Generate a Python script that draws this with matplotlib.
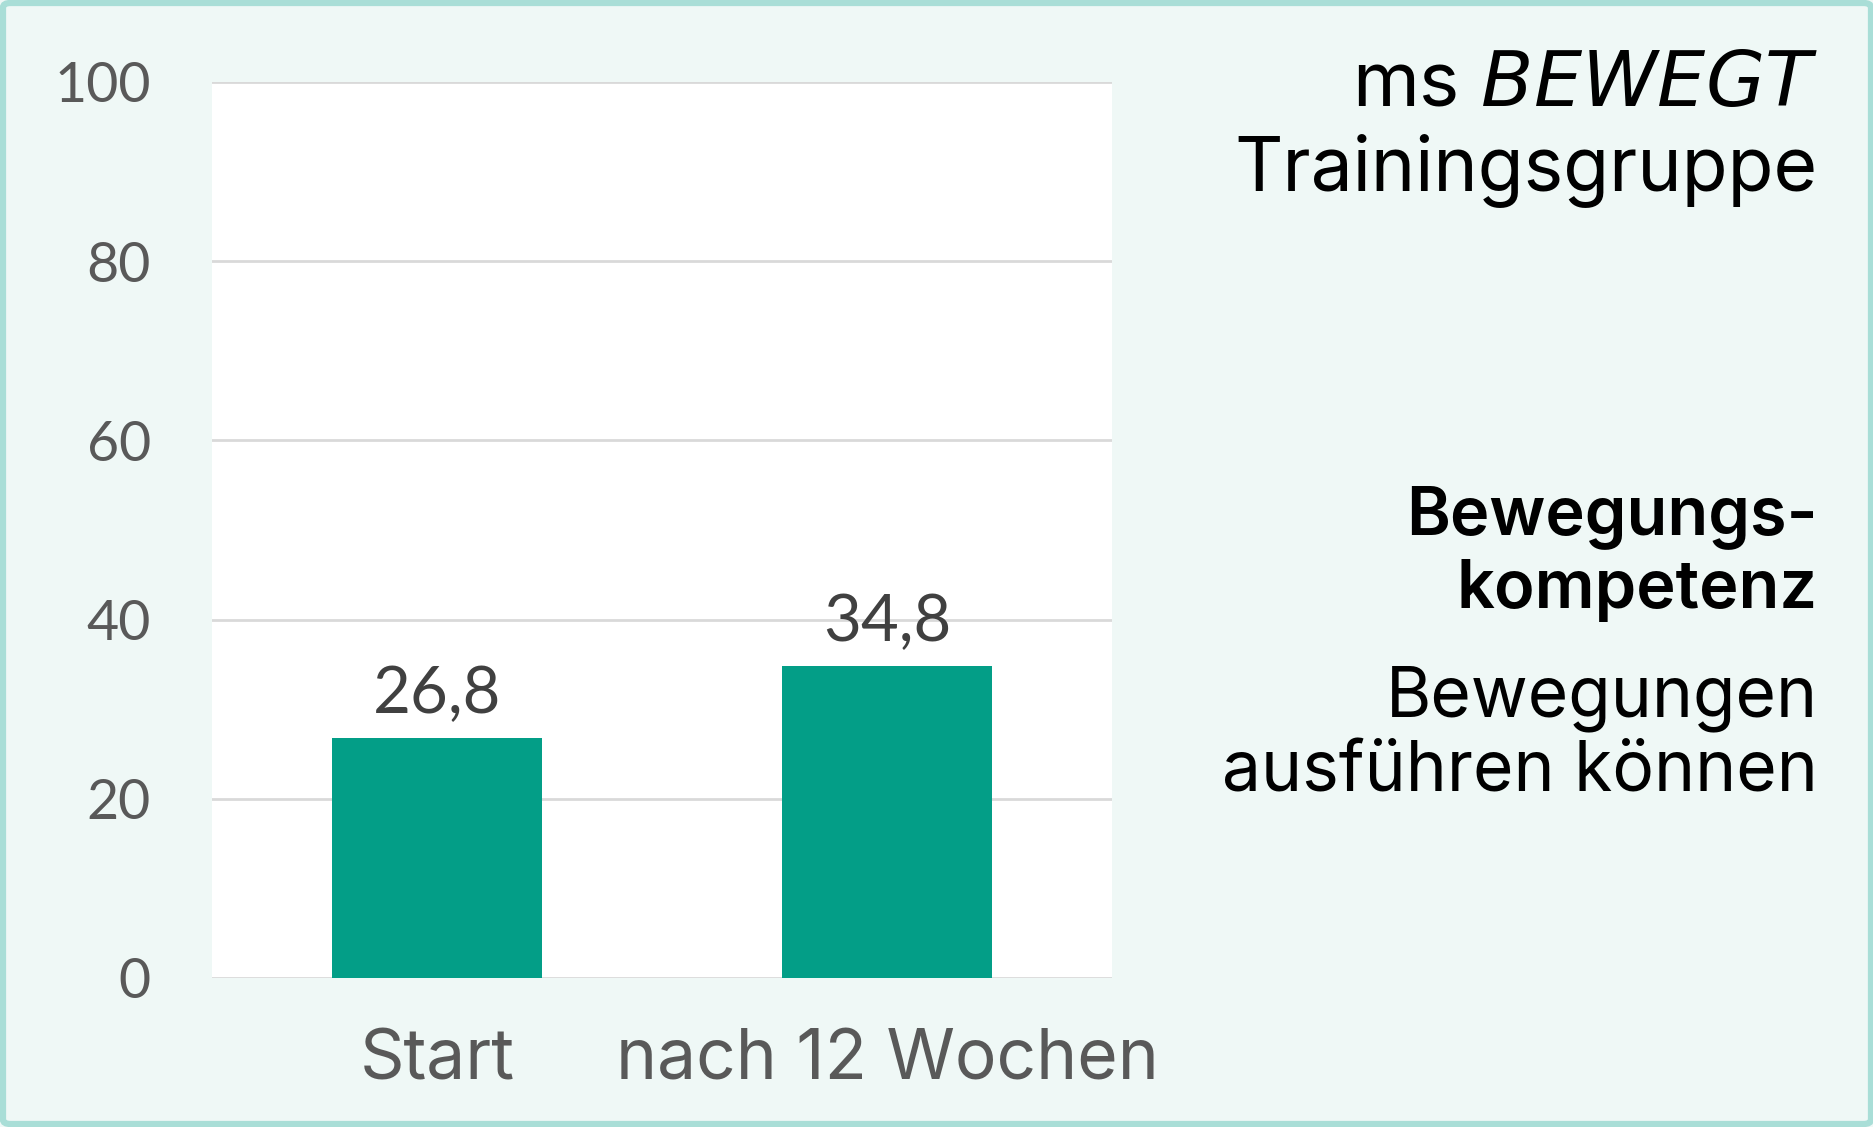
import matplotlib.pyplot as plt
from matplotlib.patches import FancyBboxPatch

# data
categories = ["Start", "nach 12 Wochen"]
values = [26.8, 34.8]
yticks = [0, 20, 40, 60, 80, 100]

BG = "#eff8f6"
BORDER = "#a9ded7"
BAR = "#039e87"
GRID = "#d9d9d9"
TICK = "#595959"
NUM_FONT = ["Lato", "DejaVu Sans"]
TXT_FONT = ["Inter", "DejaVu Sans"]

W, H = 1874, 1127
fig = plt.figure(figsize=(W / 100, H / 100), dpi=100)
fig.patch.set_facecolor(BG)

# teal frame around everything
frame = FancyBboxPatch((3 / W, 3 / H), 1 - 6 / W, 1 - 6 / H,
                       boxstyle="round,pad=0,rounding_size=0.004",
                       transform=fig.transFigure, facecolor="none",
                       edgecolor=BORDER, linewidth=4.5, zorder=0)
fig.patches.append(frame)

ax = fig.add_axes([212 / W, 1 - 978 / H, (1112 - 212) / W, (978 - 82) / H])
ax.set_facecolor("white")
x = range(len(categories))
ax.bar(x, values, width=0.465, color=BAR, zorder=3)
ax.set_xlim(-0.5, len(categories) - 0.5)
ax.set_ylim(0, 100)
ax.set_yticks(yticks)
ax.set_yticklabels([str(t) for t in yticks], fontsize=40, color=TICK, family=NUM_FONT)
ax.set_xticks(list(x))
ax.set_xticklabels(categories, fontsize=50, color=TICK, family=TXT_FONT)
ax.tick_params(axis="y", length=0, pad=44)
ax.tick_params(axis="x", length=0, pad=36)
ax.yaxis.grid(True, color=GRID, lw=2.0, zorder=0)
ax.set_axisbelow(True)
for s in ax.spines.values():
    s.set_visible(False)

for xi, v in zip(x, values):
    ax.annotate(f"{v:.1f}".replace(".", ","), (xi, v), xytext=(0, 18),
                textcoords="offset points", ha="center", va="baseline",
                fontsize=47, color="#404040", family=NUM_FONT, zorder=4)

# side text, right aligned
rx = 1818 / W
def side(txt, py, **kw):
    fig.text(rx, 1 - py / H, txt, ha="right", va="baseline",
             family=TXT_FONT, color="black", **kw)

side("ms $\\it{BEWEGT}$", 106, fontsize=55)
side("Trainingsgruppe", 190, fontsize=54)
side("Bewegungs-", 534, fontsize=48, fontweight="semibold")
side("kompetenz", 608, fontsize=48, fontweight="semibold")
side("Bewegungen", 716, fontsize=50)
side("ausführen können", 792, fontsize=50)

fig.savefig("out.png", dpi=100, facecolor=BG)
